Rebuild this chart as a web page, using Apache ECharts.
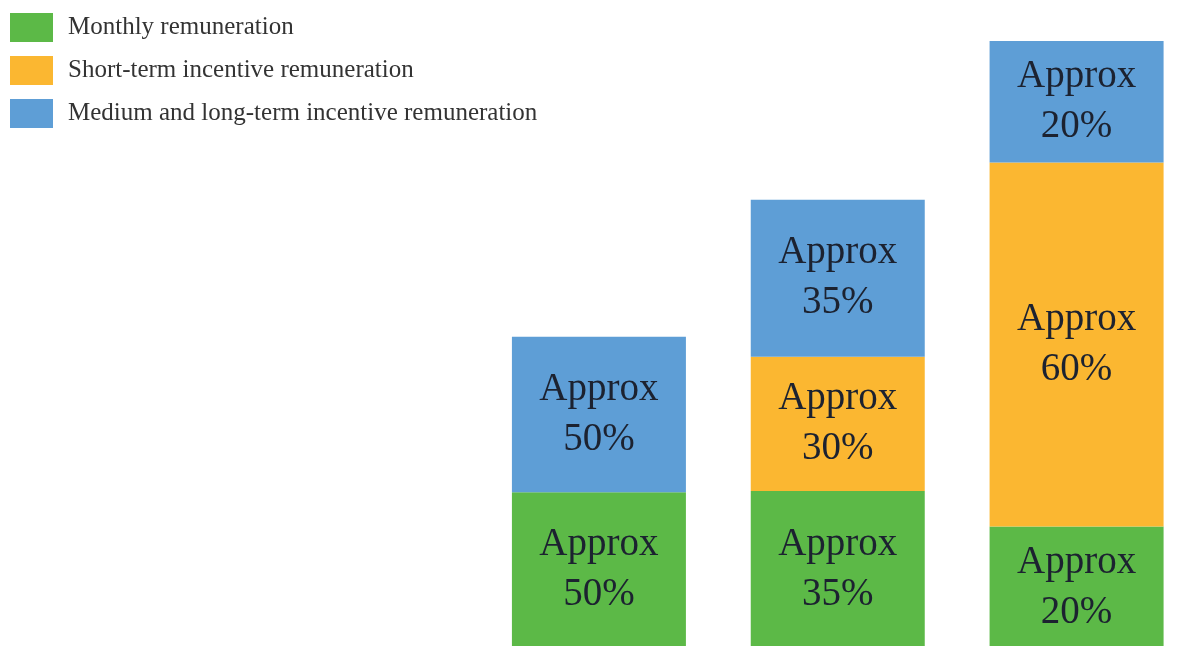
<!DOCTYPE html>
<html>
<head>
<meta charset="utf-8">
<title>Remuneration structure</title>
<script src="https://cdn.jsdelivr.net/npm/echarts@6/dist/echarts.min.js"></script>
<style>
  html, body { margin: 0; padding: 0; background: #ffffff; }
  #chart { width: 1181px; height: 646px; }
</style>
</head>
<body>
<div id="chart"></div>
<script>
// Three pay levels; each bar's height is its relative total pay level
const categories = ['Level 1', 'Level 2', 'Level 3'];
const totals = [100, 144, 195];

// Approximate share of each component within a level's total (%)
const monthlyShare = [50, 35, 20];
const shortTermShare = [0, 30, 60];
const longTermShare = [50, 35, 20];

const seriesNames = [
  'Monthly remuneration',
  'Short-term incentive remuneration',
  'Medium and long-term incentive remuneration'
];
const colors = ['#5cb947', '#fbb731', '#5e9ed6'];

// Segment value = share of the level's total
function segments(shares) {
  return shares.map((s, i) => ({ value: totals[i] * s / 100, share: s }));
}

const chart = echarts.init(document.getElementById('chart'), null, { renderer: 'canvas' });

const shareLists = [monthlyShare, shortTermShare, longTermShare];
const series = shareLists.map((shares, k) => ({
  name: seriesNames[k],
  type: 'bar',
  stack: 'pay',
  barWidth: 174,
  data: segments(shares),
  itemStyle: { color: colors[k] },
  label: {
    show: true,
    position: 'inside',
    formatter: p => (p.data.share > 0 ? 'Approx\n' + p.data.share + '%' : ''),
    fontFamily: 'Liberation Serif',
    fontSize: 39,
    lineHeight: 50,
    color: '#1c2230'
  },
  emphasis: { disabled: true }
}));

chart.setOption({
  animation: false,
  backgroundColor: '#ffffff',
  legend: {
    orient: 'vertical',
    left: 10,
    top: 13,
    padding: 0,
    icon: 'rect',
    itemWidth: 43,
    itemHeight: 29,
    itemGap: 14,
    data: seriesNames,
    textStyle: {
      fontFamily: 'Liberation Serif',
      fontSize: 25,
      color: '#333333',
      padding: [6, 0, 0, 10]
    }
  },
  grid: {
    left: 479.5,
    width: 716.5,
    top: 41,
    bottom: -2,
    outerBoundsMode: 'none'
  },
  xAxis: {
    type: 'category',
    data: categories,
    show: false
  },
  yAxis: {
    type: 'value',
    min: 0,
    max: Math.max(...totals),
    show: false
  },
  series: series
});
</script>
</body>
</html>
